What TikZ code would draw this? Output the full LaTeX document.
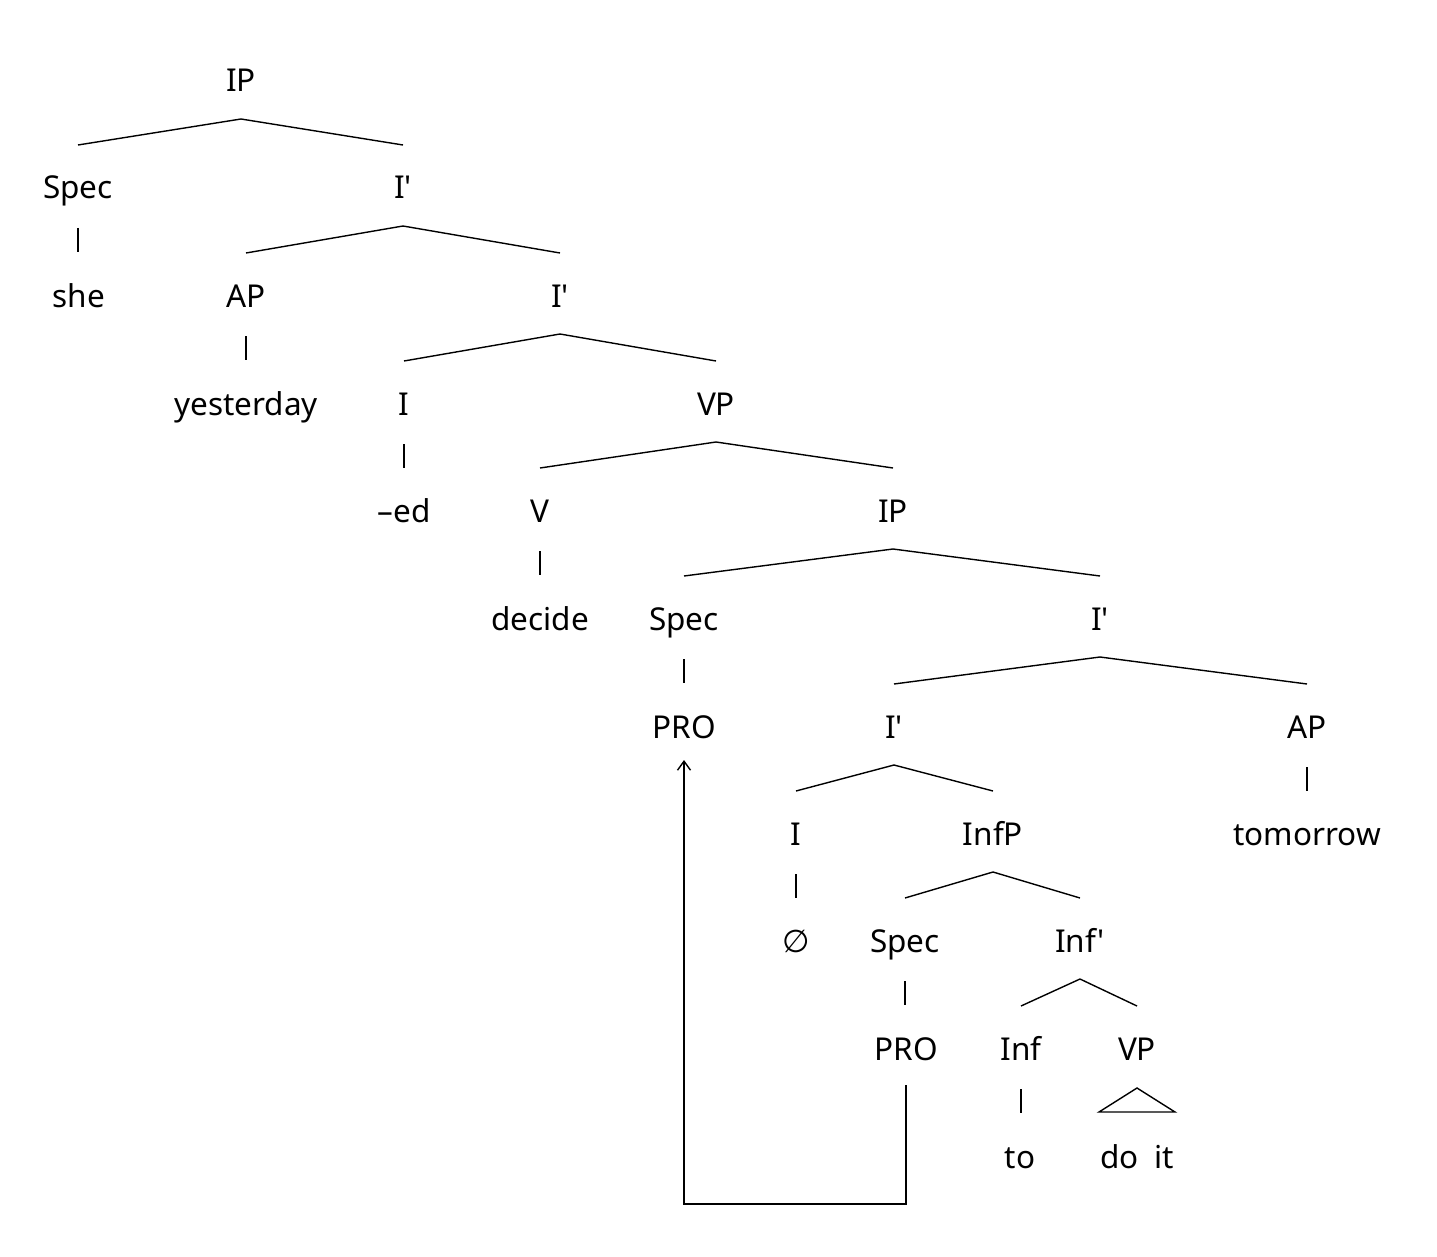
\documentclass[tikz,border=0pt]{standalone}
\usepackage{fontspec}
\setmainfont{Noto Sans}[Ligatures=TeXOff]
\newfontfamily\dejavu{DejaVu Sans}
\usetikzlibrary{arrows.meta}
\tikzset{
  lab/.style={anchor=base,inner sep=0pt,font=\fontsize{31.5}{38}\selectfont},
  edge/.style={line width=1.4pt},
}
\newcommand\brn[2]{\draw[edge] ([yshift=-27pt]#1.base) -- ([yshift=54pt]#2.base);}
\newcommand\un[2]{\draw[edge] ([yshift=-29pt]#1.base) -- ++(0,24);}
\begin{document}
\begin{tikzpicture}[x=1pt,y=-1pt]
\useasboundingbox[fill=white] (0,0) rectangle (1437,1257);
\node[lab] (ip1) at (241,92) {IP};
\node[lab] (spec1) at (78,199) {Spec};
\node[lab] (ib1) at (403,199) {I'};
\node[lab] (she) at (79,307) {she};
\node[lab] (ap1) at (246,307) {AP};
\node[lab] (ib2) at (560,307) {I'};
\node[lab] (yest) at (246,415) {yesterday};
\node[lab] (i1) at (404,415) {I};
\node[lab] (vp1) at (716,415) {VP};
\node[lab] (ed) at (404,522) {–ed};
\node[lab] (v) at (540,522) {V};
\node[lab] (ip2) at (893,522) {IP};
\node[lab] (decide) at (540,630) {decide};
\node[lab] (spec2) at (684,630) {Spec};
\node[lab] (ib3) at (1100,630) {I'};
\node[lab] (pro1) at (684,738) {PRO};
\node[lab] (ib4) at (894,738) {I'};
\node[lab] (ap2) at (1307,738) {AP};
\node[lab] (i2) at (796,845) {I};
\node[lab] (infp) at (993,845) {InfP};
\node[lab] (tom) at (1307,845) {tomorrow};
\node[lab] (empty) at (796,952) {\dejavu ∅};
\node[lab] (spec3) at (905,952) {Spec};
\node[lab] (infb) at (1080,952) {Inf'};
\node[lab] (pro2) at (906,1060) {PRO};
\node[lab] (inf) at (1021,1060) {Inf};
\node[lab] (vp2) at (1137,1060) {VP};
\node[lab] (to) at (1020,1168) {to};
\node[lab] (doit) at (1137,1168) {do\enspace it};
% branches
\brn{ip1}{spec1}\brn{ip1}{ib1}
\un{spec1}{she}
\brn{ib1}{ap1}\brn{ib1}{ib2}
\un{ap1}{yest}
\brn{ib2}{i1}\brn{ib2}{vp1}
\un{i1}{ed}
\brn{vp1}{v}\brn{vp1}{ip2}
\un{v}{decide}
\brn{ip2}{spec2}\brn{ip2}{ib3}
\un{spec2}{pro1}
\brn{ib3}{ib4}\brn{ib3}{ap2}
\un{ap2}{tom}
\brn{ib4}{i2}\brn{ib4}{infp}
\un{i2}{empty}
\brn{infp}{spec3}\brn{infp}{infb}
\un{spec3}{pro2}
\brn{infb}{inf}\brn{infb}{vp2}
\un{inf}{to}
% triangle
\draw[edge] ([yshift=-28pt]vp2.base) -- ([xshift=-38pt,yshift=56pt]doit.base) -- ([xshift=38pt,yshift=56pt]doit.base) -- cycle;
% movement arrow
\coordinate (bot) at (795,1204);
\draw[edge,-{Straight Barb[length=9pt,width=13pt]}] ([yshift=-25pt]pro2.base) |- (bot) -| ([yshift=-22pt]pro1.base);
\end{tikzpicture}
\end{document}
